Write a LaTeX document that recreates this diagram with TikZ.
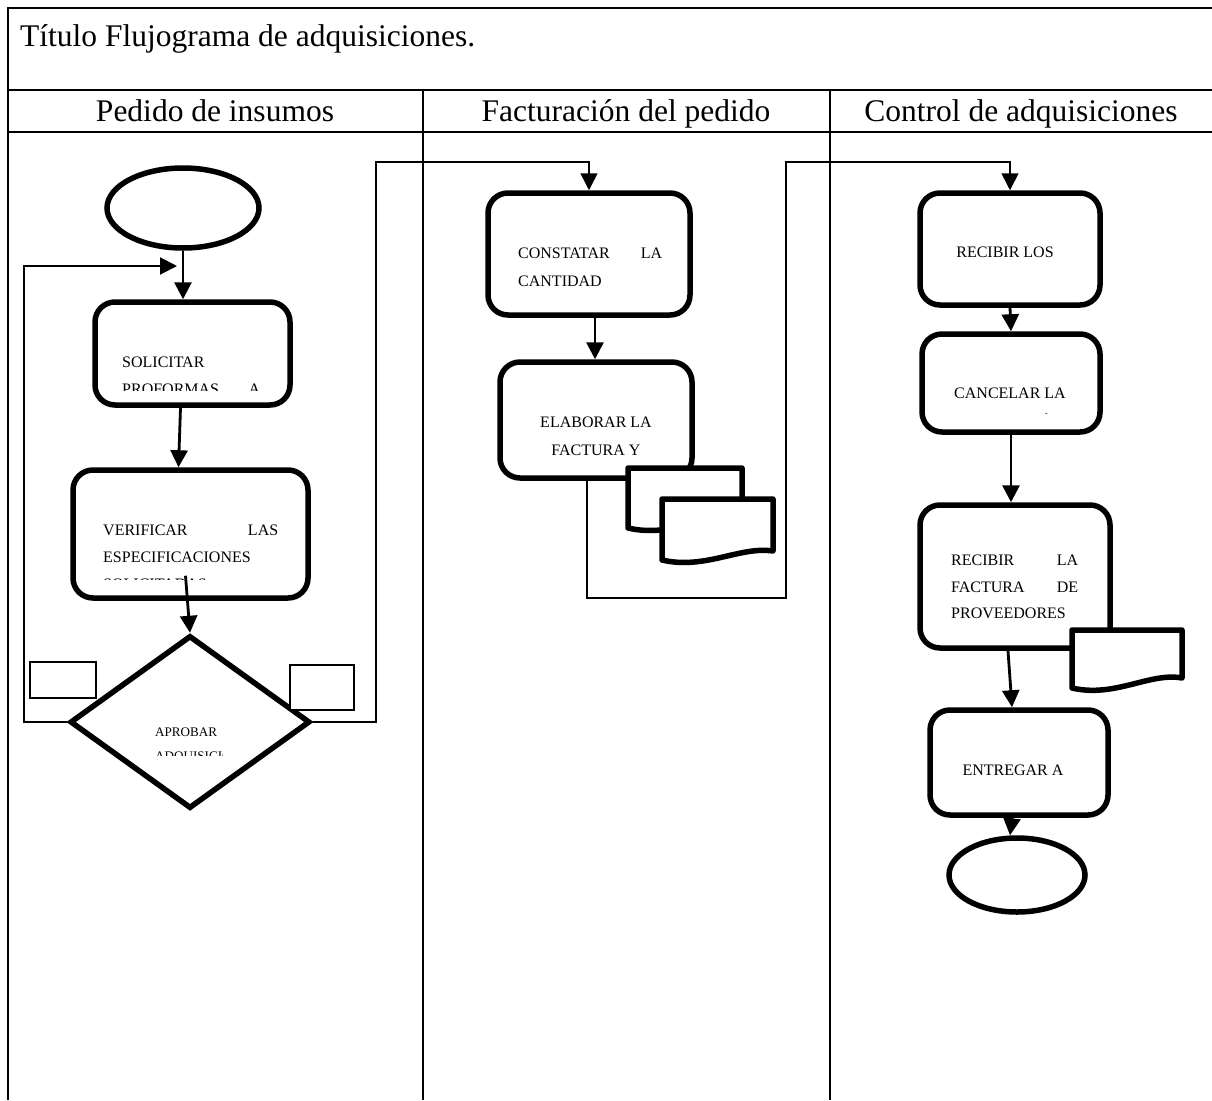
\documentclass[tikz,border=0pt]{standalone}
\usepackage{fontspec}
\setmainfont{Liberation Serif}
\usetikzlibrary{arrows.meta}
\usetikzlibrary{shapes.geometric}

\begin{document}
\begin{tikzpicture}[
    x=1pt, y=-1pt,
    proceso/.style={draw, line width=5.5pt, rounded corners=20pt, inner sep=0pt},
    terminal/.style={draw, ellipse, line width=5.5pt, inner sep=0pt},
    decision/.style={draw, diamond, line width=5.5pt, inner sep=0pt},
    etiqueta/.style={draw, fill=white, line width=1.4pt, inner sep=0pt},
    punta/.style={-{Triangle[width=17pt,length=17pt]}},
    flecha/.style={line width=2.8pt, punta},
    enlace/.style={line width=1.6pt},
    documento/.style={draw, fill=white, line width=5.5pt, line join=round},
    tabla/.style={line width=2pt},
    cabecera/.style={inner sep=0pt, font=\fontsize{31.5}{38}\selectfont},
    texto/.style={inner sep=0pt, font=\fontsize{16}{19}\selectfont},
    textorombo/.style={inner sep=0pt, font=\fontsize{13.1}{16}\selectfont},
  ]
  \useasboundingbox (0,0) rectangle (1212,1100);

  % tabla
  \draw[tabla] (8,1100) -- (8,8) -- (1212,8);
  \draw[tabla] (8,90) -- (1212,90);
  \draw[tabla] (8,132) -- (1212,132);
  \draw[tabla] (423,90) -- (423,1100);
  \draw[tabla] (830,90) -- (830,1100);
  \node[cabecera, anchor=base west] (titulo) at (20,46) {Título Flujograma de adquisiciones.};
  \node[cabecera, anchor=base] (col-pedido) at (215,121) {Pedido de insumos};
  \node[cabecera, anchor=base] (col-factura) at (626,121) {Facturación del pedido};
  \node[cabecera, anchor=base] (col-control) at (1021,121) {Control de adquisiciones};

  % pedido de insumos
  \node[terminal, minimum width=152, minimum height=80] (inicio) at (183,208) {};
  \node[proceso, minimum width=195, minimum height=103] (solicitar) at (192.5,353.5) {};
  \node[proceso, minimum width=235, minimum height=128] (verificar) at (190.5,534) {};
  \node[decision, minimum width=240, minimum height=173] (aprobar) at (190,722) {};

  \node[texto, anchor=base west] (t-sol1) at (122,367) {SOLICITAR};
  \begin{scope}
    \clip (100,300) rectangle (285,390);
    \node[texto, anchor=base west] (t-sol2) at (122,394) {\makebox[138pt][l]{PROFORMAS\hfill A}};
  \end{scope}
  \node[texto, anchor=base west] (t-ver1) at (103,535) {\makebox[175pt][l]{VERIFICAR\hfill LAS}};
  \node[texto, anchor=base west] (t-ver2) at (103,562) {ESPECIFICACIONES};
  \begin{scope}
    \clip (78,475) rectangle (303,579.5);
    \node[texto, anchor=base west] (t-ver3) at (103,589) {SOLICITADAS};
  \end{scope}
  \node[textorombo, anchor=base west] (t-apr1) at (155,736.5) {APROBAR};
  \begin{scope}
    \clip (150,700) rectangle (222,755);
    \node[textorombo, anchor=base west] (t-apr2) at (155,760.5) {ADQUISICIÓN};
  \end{scope}

  \draw[flecha] (inicio.south) -- (inicio.south |- solicitar.north);
  \draw[flecha] ([xshift=-12pt]solicitar.south) -- ([xshift=-12pt]verificar.north);
  \draw[flecha] ([xshift=-5pt,yshift=25pt]verificar.south) -- (aprobar.north);

  % facturacion del pedido
  \node[proceso, minimum width=202, minimum height=122] (constatar) at (589,254) {};
  \node[proceso, minimum width=192, minimum height=116] (elaborar) at (596,420) {};

  \node[texto, anchor=base west] (t-con1) at (518,258) {\makebox[144pt][l]{CONSTATAR\hfill LA}};
  \node[texto, anchor=base west] (t-con2) at (518,286) {CANTIDAD};
  \node[texto, anchor=base] (t-ela1) at (596,427) {ELABORAR LA};
  \node[texto, anchor=base] (t-ela2) at (596,455) {FACTURA Y};

  \draw[flecha] ([xshift=6pt]constatar.south) -- ([xshift=-1pt]elaborar.north);

  % control de adquisiciones
  \node[proceso, minimum width=180, minimum height=112] (recibir) at (1010,249) {};
  \node[proceso, minimum width=178, minimum height=98] (cancelar) at (1011,383) {};
  \node[proceso, minimum width=190, minimum height=143] (recibirla) at (1015,576.5) {};
  \node[proceso, minimum width=178, minimum height=105] (entregar) at (1019,762.5) {};
  \node[terminal, minimum width=136, minimum height=74] (fin) at (1017,875) {};

  \node[texto, anchor=base] (t-rec) at (1005,257) {RECIBIR LOS};
  \node[texto, anchor=base] (t-can1) at (1010,398) {CANCELAR LA};
  \begin{scope}
    \clip (925,330) rectangle (1095,413);
    \node[texto, anchor=base] (t-can2) at (1010,427) {ADQUISICIÓN};
  \end{scope}
  \node[texto, anchor=base west] (t-rla1) at (951,565) {\makebox[127pt][l]{RECIBIR\hfill LA}};
  \node[texto, anchor=base west] (t-rla2) at (951,592) {\makebox[127pt][l]{FACTURA\hfill DE}};
  \node[texto, anchor=base west] (t-rla3) at (951,618) {PROVEEDORES};
  \node[texto, anchor=base] (t-ent) at (1013,775) {ENTREGAR A};

  \draw[flecha] (recibir.south) -- (cancelar.north);
  \draw[flecha] (cancelar.south) -- (cancelar.south |- recibirla.north);
  \draw[flecha] ([xshift=-7pt]recibirla.south) -- ([xshift=-7pt]entregar.north);
  \draw[flecha] ([xshift=-7pt]entregar.south) -- ([xshift=-7pt]fin.north);

  % enlaces entre columnas
  \coordinate (retorno) at (177,266);
  \draw[enlace, line width=2pt, punta] (aprobar.west) -| (24,266) -- (retorno);
  \draw[enlace, punta] (aprobar.east) -| (376,162) -| (constatar.north);
  \draw[enlace, punta] ([xshift=-9pt]elaborar.south) |- (786,598) -- (786,162) -| (recibir.north);

  % documentos
  \draw[documento] (628,468) -- (742,468) -- (742,520) .. controls (712,514) and (670,538) .. (628,528) -- cycle;
  \draw[documento] (662,499) -- (773,499) -- (773,551) .. controls (740,546) and (705,570) .. (662,560) -- cycle;
  \draw[documento] (1072,630) -- (1182,630) -- (1182,678) .. controls (1150,672) and (1115,698) .. (1072,688) -- cycle;

  % etiquetas de la decision
  \node[etiqueta, minimum width=66, minimum height=36] (etiqueta-izq) at (63,680) {};
  \node[etiqueta, minimum width=64, minimum height=45] (etiqueta-der) at (322,687.5) {};
\end{tikzpicture}
\end{document}
